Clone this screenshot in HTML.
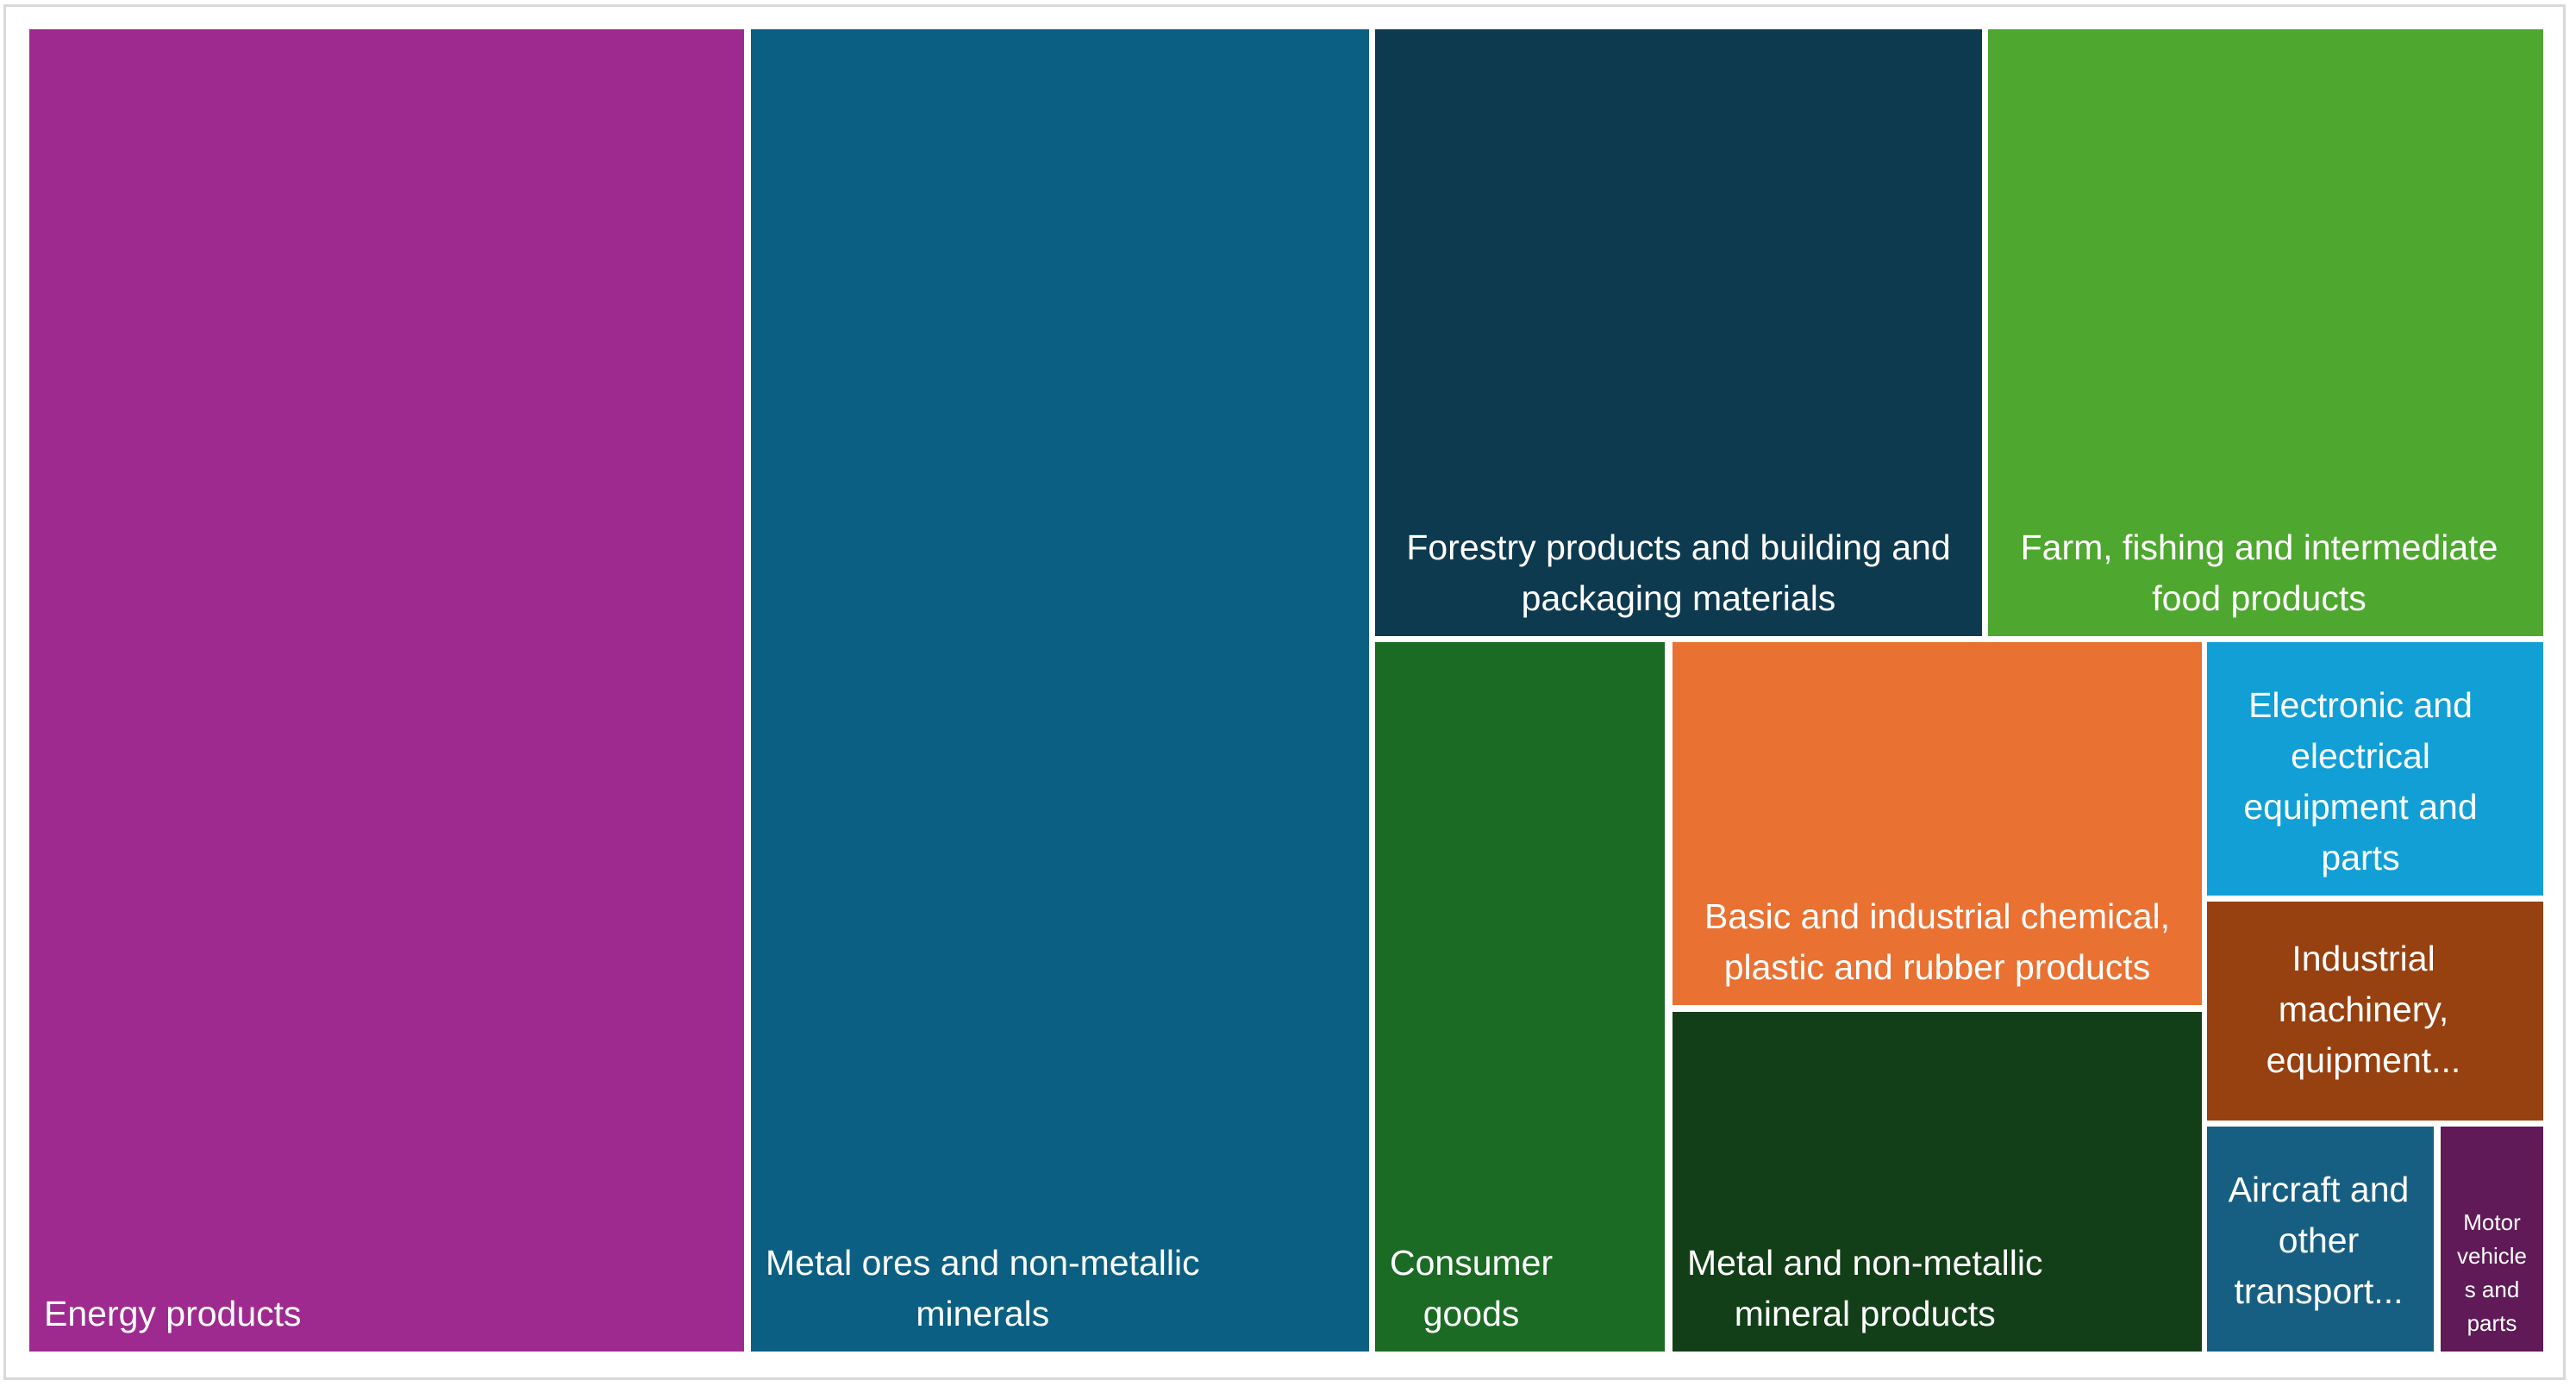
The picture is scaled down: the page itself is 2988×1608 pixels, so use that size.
<!DOCTYPE html>
<html><head><meta charset="utf-8"><style>
html,body{margin:0;padding:0;background:#fff}
#c{position:relative;width:2988px;height:1608px;overflow:hidden;font-family:"Liberation Sans",sans-serif;color:#fff}
#frame{position:absolute;left:4px;top:5px;width:2972px;height:1596px;border:3px solid #d9d9d9;box-sizing:border-box}
.b{position:absolute}
.l{position:absolute;left:0;right:0;bottom:14px;font-size:41px;line-height:59px;text-align:center;white-space:nowrap}
.l.left{left:17px;right:auto}
</style></head><body><div id="c">
<div id="frame"></div>
<div class="b" style="left:34px;top:34px;width:829px;height:1534px;background:#9e2a90"><div class="l left" style="text-align:left">Energy products</div></div>
<div class="b" style="left:871px;top:34px;width:717px;height:1534px;background:#0b5f82"><div class="l left">Metal ores and non-metallic<br>minerals</div></div>
<div class="b" style="left:1595px;top:34px;width:704px;height:704px;background:#0e3a50"><div class="l">Forestry products and building and<br>packaging materials</div></div>
<div class="b" style="left:2306px;top:34px;width:644px;height:704px;background:#4ea72e"><div class="l" style="right:15px">Farm, fishing and intermediate<br>food products</div></div>
<div class="b" style="left:1595px;top:745px;width:336px;height:823px;background:#1b6b24"><div class="l left">Consumer<br>goods</div></div>
<div class="b" style="left:1940px;top:745px;width:614px;height:421px;background:#e97132"><div class="l">Basic and industrial chemical,<br>plastic and rubber products</div></div>
<div class="b" style="left:1940px;top:1174px;width:614px;height:394px;background:#123f18"><div class="l left">Metal and non-metallic<br>mineral products</div></div>
<div class="b" style="left:2560px;top:745px;width:390px;height:294px;background:#119fd6"><div class="l" style="right:34px">Electronic and<br>electrical<br>equipment and<br>parts</div></div>
<div class="b" style="left:2560px;top:1046px;width:390px;height:254px;background:#974010"><div class="l" style="bottom:40px;right:27px">Industrial<br>machinery,<br>equipment...</div></div>
<div class="b" style="left:2560px;top:1307px;width:263px;height:261px;background:#175f82"><div class="l" style="bottom:40px;right:4px">Aircraft and<br>other<br>transport...</div></div>
<div class="b" style="left:2831px;top:1307px;width:119px;height:261px;background:#5f1a57"><div class="l" style="bottom:13px;font-size:26px;line-height:39px">Motor<br>vehicle<br>s and<br>parts</div></div>
</div></body></html>
